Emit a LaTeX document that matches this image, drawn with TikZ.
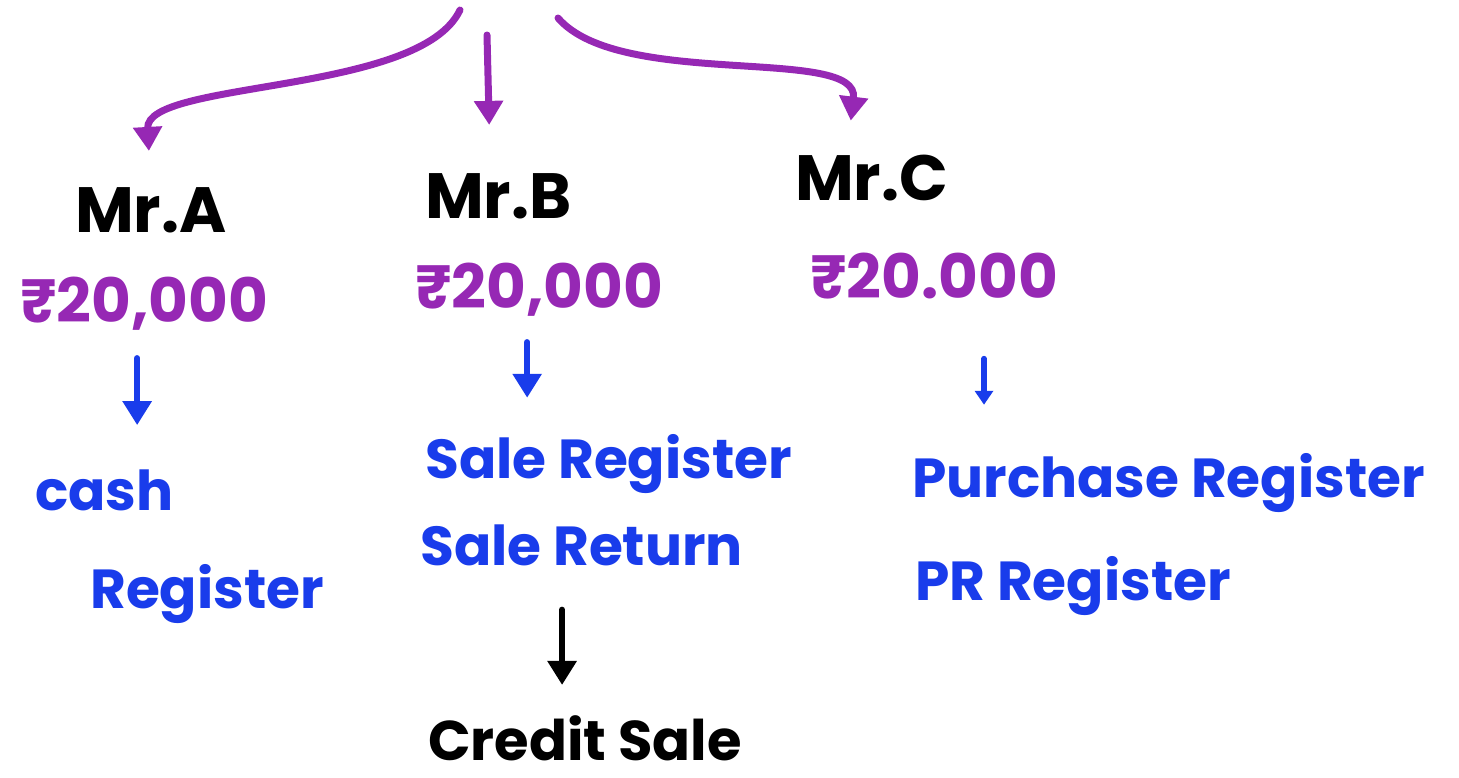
\documentclass[tikz,border=0pt]{standalone}
\usepackage{fontspec}
\setmainfont{Poppins}
\usetikzlibrary{arrows.meta}
\definecolor{pen}{RGB}{150,40,180}
\definecolor{ink}{RGB}{25,60,235}
\tikzset{%
  tipA/.tip={Triangle[width=28pt,length=24pt]},
  tipB/.tip={Triangle[width=18pt,length=14pt]},
  person/.style={text=black, inner sep=0pt, anchor=base west, font=\bfseries\fontsize{64}{64}\selectfont},
  amount/.style={text=pen, inner sep=0pt, anchor=base west, font=\bfseries\fontsize{61}{61}\selectfont},
  book/.style={text=ink, inner sep=0pt, anchor=base west, font=\bfseries\fontsize{55}{55}\selectfont},
  penarrow/.style={draw=pen, line width=7pt, line cap=round, -tipA},
  inkarrow/.style={draw=ink, line width=6pt, line cap=round, -tipA},
}

\begin{document}
\begin{tikzpicture}[x=1pt, y=-1pt]
\useasboundingbox (0,0) rectangle (1459,777);
% people
\node[person] (mrA) at (75,232) {Mr.A};
\node[person] (mrB) at (425,218) {Mr.B};
\node[person] (mrC) at (795,200) {Mr.C};
% amounts
\node[amount] (amtA) at (20,322) {₹20,000};
\node[amount] (amtB) at (415,308) {₹20,000};
\node[amount] (amtC) at (810,298) {₹20.000};
% registers
\node[book] (cash) at (35,510) {cash};
\node[book] (cashreg) at (90,608) {Register};
\node[book] (salereg) at (425,478) {Sale Register};
\node[book] (saleret) at (420,565) {Sale Return};
\node[book] (purch) at (912,497) {Purchase Register};
\node[book] (prreg) at (915,600) {PR Register};
\node[person, font=\bfseries\fontsize{56}{56}\selectfont] (credit) at (428,760) {Credit Sale};
% top arrows
\coordinate (top1) at (460,10);
\coordinate (top2) at (487,35);
\coordinate (top3) at (558,18);
\draw[penarrow, shorten >=36pt] (top1) .. controls (420,95) and (145,80) .. (mrA.north);
\draw[penarrow, shorten >=48pt] (top2) -- ([xshift=-8pt]mrB.north);
\draw[penarrow, shorten >=34pt] (top3) .. controls (620,90) and (860,45) .. ([xshift=-25pt]mrC.north);
% lower arrows
\draw[inkarrow, shorten <=28pt, shorten >=44pt] ([xshift=-7pt]amtA.south) -- ([xshift=-7pt]cash.north -| amtA.south);
\draw[inkarrow, shorten <=26pt, shorten >=36pt] ([xshift=-12pt]amtB.south) -- ([xshift=-12pt]salereg.north -| amtB.south);
\draw[inkarrow, -tipB, shorten <=60pt, shorten >=48pt] ([xshift=50pt]amtC.south) -- ([xshift=50pt]purch.north -| amtC.south);
\draw[line width=6pt, line cap=round, -tipA, shorten <=44pt, shorten >=30pt] ([xshift=-23pt]saleret.south -| credit.north) -- ([xshift=-23pt]credit.north);
\end{tikzpicture}
\end{document}
